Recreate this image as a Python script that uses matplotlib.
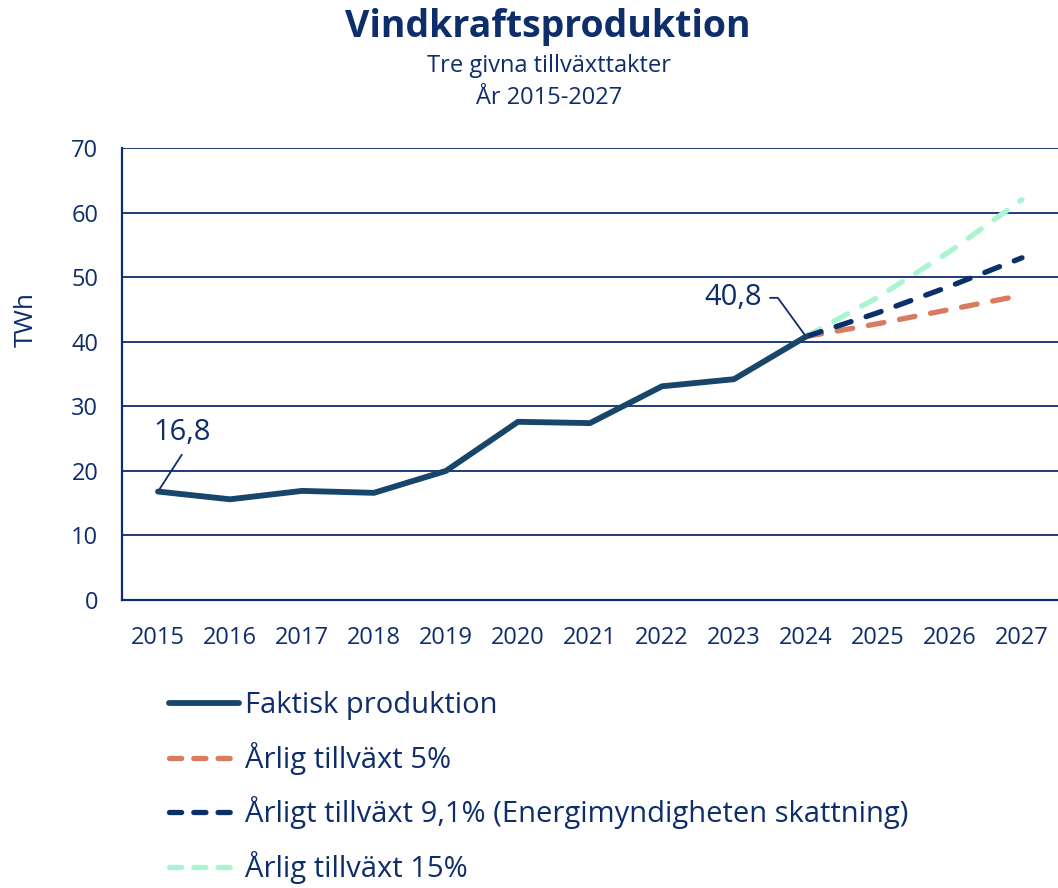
import matplotlib.pyplot as plt
from matplotlib.lines import Line2D

plt.rcParams['font.family'] = ['Open Sans', 'DejaVu Sans']

navy = '#0d2d6b'

years = [2015, 2016, 2017, 2018, 2019, 2020, 2021, 2022, 2023, 2024, 2025, 2026, 2027]
actual_years = [2015, 2016, 2017, 2018, 2019, 2020, 2021, 2022, 2023, 2024]
actual = [16.8, 15.6, 16.9, 16.6, 20.0, 27.6, 27.4, 33.1, 34.2, 40.8]
proj_years = [2024, 2025, 2026, 2027]
growth_5 = [40.8, 42.8, 45.0, 47.2]
growth_91 = [40.8, 44.5, 48.6, 53.0]
growth_15 = [40.8, 46.9, 54.0, 62.0]

labels = ['Faktisk produktion', 'Årlig tillväxt 5%',
          'Årligt tillväxt 9,1% (Energimyndigheten skattning)', 'Årlig tillväxt 15%']
colors = ['#17456b', '#d97b5f', '#0b2f6b', '#a8f5d0']

fig = plt.figure(figsize=(10.58, 8.88), dpi=100)
ax = fig.add_axes([0.1153, 0.3243, 0.8847, 0.509])

ax.plot(proj_years, growth_15, color=colors[3], lw=3.8, dashes=(3, 3), dash_capstyle='round', zorder=3)
ax.plot(proj_years, growth_91, color=colors[2], lw=3.8, dashes=(3, 3), dash_capstyle='round', zorder=4)
ax.plot(proj_years, growth_5, color=colors[1], lw=3.8, dashes=(3, 3), dash_capstyle='round', zorder=3)
ax.plot(actual_years, actual, color=colors[0], lw=4.2, solid_capstyle='round', zorder=5)

ax.set_xlim(2014.5, 2027.5)
ax.set_ylim(0, 70)
ax.set_yticks(range(0, 71, 10))
ax.set_xticks(years)
ax.grid(axis='y', color=navy, lw=1.3)
ax.set_axisbelow(True)
for s in ['top', 'right']:
    ax.spines[s].set_visible(False)
for s in ['left', 'bottom']:
    ax.spines[s].set_color(navy)
    ax.spines[s].set_linewidth(1.6)
ax.tick_params(length=0, labelsize=17, labelcolor=navy)
ax.tick_params(axis='y', pad=17)
ax.tick_params(axis='x', pad=19)
ax.set_ylabel('TWh', fontsize=19, color=navy)
ax.yaxis.set_label_coords(-0.089, 0.62)

# labels on first and last actual values
ax.text(2015.33, 25.9, '16,8', fontsize=21, color=navy, ha='center', va='center')
ax.annotate('', xy=(actual_years[0], actual[0]), xytext=(2015.33, 22.5),
            arrowprops=dict(arrowstyle='-', color=navy, lw=1.3, shrinkA=0, shrinkB=0))
ax.text(2023.39, 46.8, '40,8', fontsize=21, color=navy, ha='right', va='center')
ax.annotate('', xy=(actual_years[-1], actual[-1]), xytext=(2023.5, 46.8),
            arrowprops=dict(arrowstyle='-', color=navy, lw=1.3, shrinkA=0, shrinkB=0,
                            connectionstyle='angle,angleA=0,angleB=126,rad=0'))

fig.text(0.518, 0.97, 'Vindkraftsproduktion', ha='center', va='center',
         fontsize=27, fontweight='bold', color=navy)
fig.text(0.519, 0.926, 'Tre givna tillväxttakter', ha='center', va='center', fontsize=17, color=navy)
fig.text(0.519, 0.89, 'År 2015-2027', ha='center', va='center', fontsize=17, color=navy)

# legend handles with shorter dashes, like the original
handles = [Line2D([], [], color=colors[0], lw=4.2, solid_capstyle='round')]
for c in colors[1:]:
    handles.append(Line2D([], [], color=c, lw=3.8, dashes=(2.3, 2.3), dash_capstyle='round'))
fig.legend(handles, labels, loc='upper left',
           bbox_to_anchor=(0.135, 0.251), frameon=False, fontsize=21,
           labelcolor=navy, handlelength=2.4, handletextpad=0.2, labelspacing=0.74)

fig.savefig('out.png', dpi=100)
